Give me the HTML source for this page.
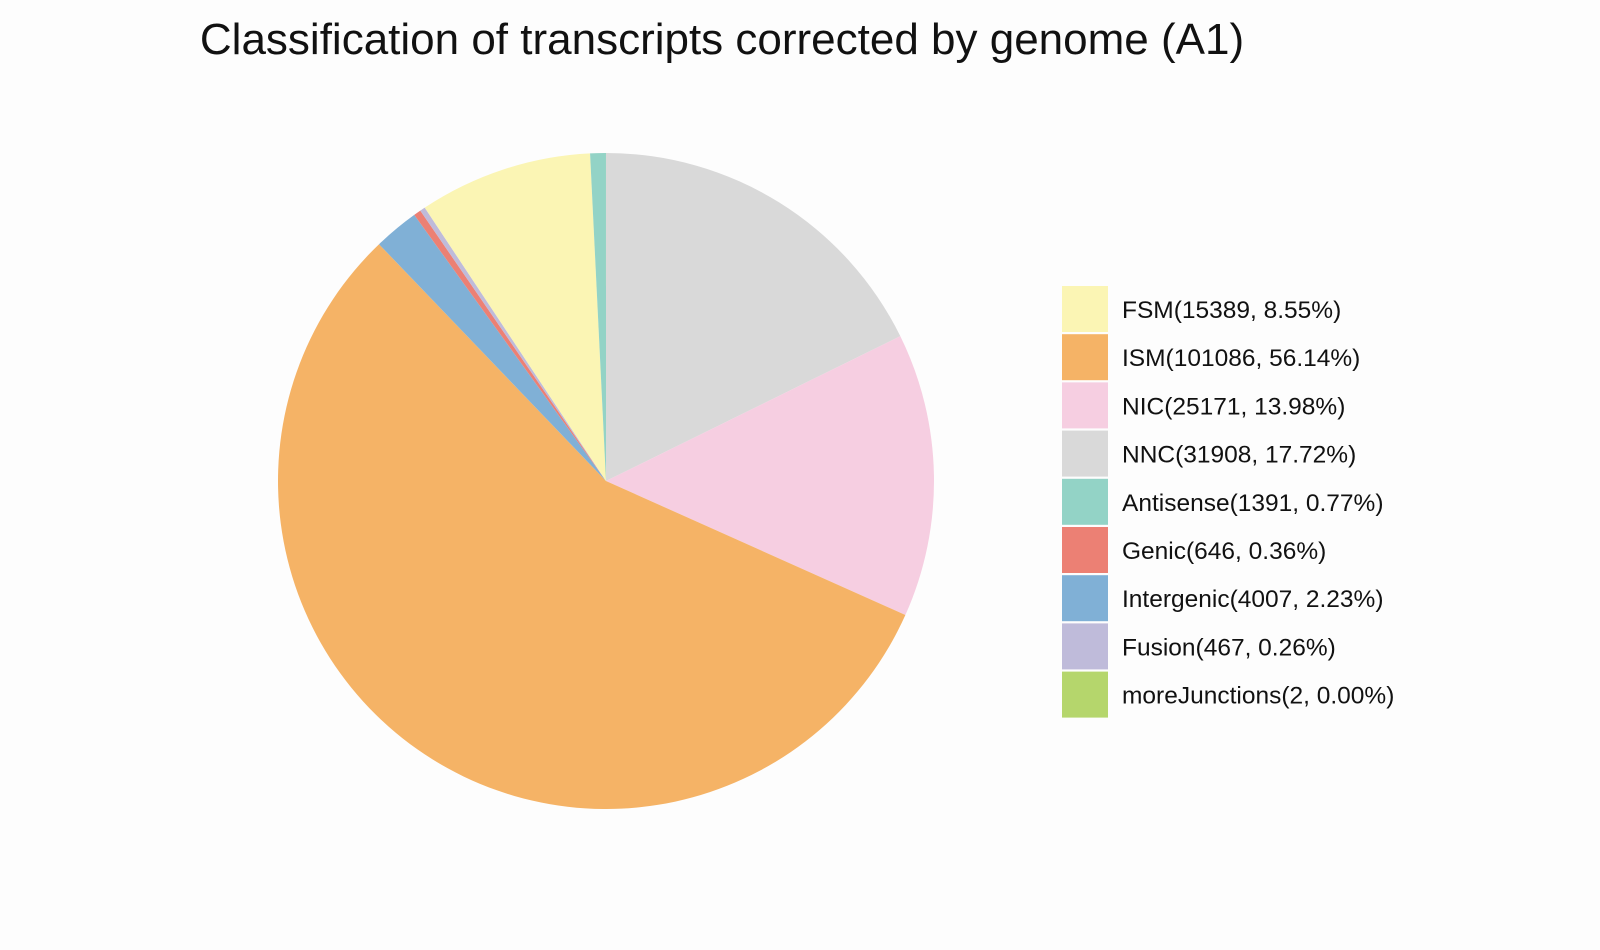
<!DOCTYPE html>
<html><head><meta charset="utf-8">
<style>
html,body{margin:0;padding:0;background:#fdfdfd;}
svg{display:block;font-family:"Liberation Sans",Arial,sans-serif;}
</style></head>
<body>
<svg id="chart" width="1600" height="950" viewBox="0 0 1600 950">
<rect width="1600" height="950" fill="#fdfdfd"/>
<text x="722" y="54" font-size="44" text-anchor="middle" fill="#111">Classification of transcripts corrected by genome (A1)</text>
<g id="slices"></g>
<g id="legend"></g>
</svg>
<script>
// legend order
const categories = ["FSM","ISM","NIC","NNC","Antisense","Genic","Intergenic","Fusion","moreJunctions"];
const counts = [15389,101086,25171,31908,1391,646,4007,467,2];
const colors = ["#fbf5b4","#f5b366","#f6cee1","#d9d9d9","#93d3c6","#ec8074","#80b0d6","#bfbbda","#b5d66c"];
// clockwise drawing order from 12 o'clock
const sliceOrder = ["NNC","NIC","ISM","Intergenic","Genic","Fusion","FSM","Antisense","moreJunctions"];

const NS="http://www.w3.org/2000/svg";
const cx=606, cy=481, r=328;
const total=counts.reduce((a,b)=>a+b,0);
const gS=document.getElementById('slices');
let ang=0;
function pt(a){return [cx+r*Math.sin(a), cy-r*Math.cos(a)];}
sliceOrder.forEach(name=>{
  const i=categories.indexOf(name);
  const sweep=counts[i]/total*2*Math.PI;
  if(sweep<=0)return;
  const p0=pt(ang), p1=pt(ang+sweep);
  const large=sweep>Math.PI?1:0;
  const path=document.createElementNS(NS,'path');
  path.setAttribute('d',`M${cx},${cy} L${p0[0]},${p0[1]} A${r},${r} 0 ${large} 1 ${p1[0]},${p1[1]} Z`);
  path.setAttribute('fill',colors[i]);
  
  
  gS.appendChild(path);
  ang+=sweep;
});
const gL=document.getElementById('legend');
categories.forEach((name,i)=>{
  const y=286+i*48.2;
  const rect=document.createElementNS(NS,'rect');
  rect.setAttribute('x',1062);rect.setAttribute('y',y);
  rect.setAttribute('width',46);rect.setAttribute('height',46);
  rect.setAttribute('fill',colors[i]);
  
  
  gL.appendChild(rect);
  const t=document.createElementNS(NS,'text');
  t.setAttribute('x',1122);t.setAttribute('y',y+32);
  t.setAttribute('font-size',24.5);t.setAttribute('fill','#111');
  t.textContent=`${name}(${counts[i]}, ${(counts[i]/total*100).toFixed(2)}%)`;
  
  
  gL.appendChild(t);
});
</script>
</body></html>
